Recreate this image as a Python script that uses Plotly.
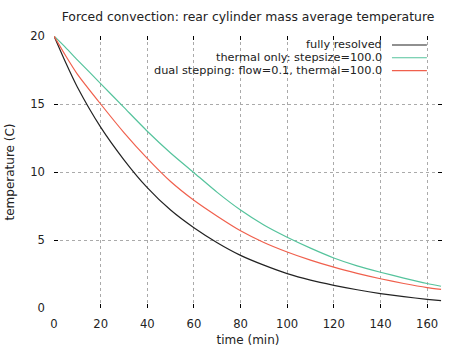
import plotly.graph_objects as go

title = "Forced convection: rear cylinder mass average temperature"
names = ["fully resolved", "thermal only: stepsize=100.0", "dual stepping: flow=0.1, thermal=100.0"]
colors = ["#222222", "#55c39c", "#f0604d"]

time_min = [0, 5, 10, 20, 30, 40, 50, 60, 70, 80, 90, 100, 110, 120, 130, 140, 150, 160, 166]
fully_resolved = [20.0, 18.05, 16.25, 13.3, 10.9, 8.85, 7.2, 5.9, 4.8, 3.87, 3.15, 2.53, 2.05, 1.67, 1.34, 1.06, 0.83, 0.64, 0.54]
thermal_only = [20.0, 19.15, 18.25, 16.5, 14.75, 13.0, 11.4, 9.95, 8.5, 7.2, 6.1, 5.2, 4.4, 3.68, 3.1, 2.63, 2.2, 1.8, 1.6]
dual_stepping = [20.0, 18.55, 17.2, 15.0, 12.9, 11.0, 9.3, 7.92, 6.75, 5.68, 4.82, 4.12, 3.52, 3.0, 2.55, 2.15, 1.8, 1.5, 1.37]

series = [fully_resolved, thermal_only, dual_stepping]

fig = go.Figure()
for name, ys, c in zip(names, series, colors):
    fig.add_trace(go.Scatter(x=time_min, y=ys, mode="lines", name=name,
                             line=dict(color=c, width=1.2, shape="spline", smoothing=0.6),
                             showlegend=False))

font = dict(family="DejaVu Sans", size=12, color="#222222")
legfont = dict(family="DejaVu Sans", size=11.3, color="#222222")
tickfont = dict(family="DejaVu Sans", size=11.6, color="#222222")

# legend drawn gnuplot-style: text right-aligned, sample line to the right
for i, (name, c) in enumerate(zip(names, colors)):
    yp = 0.967 - i * 0.047
    fig.add_annotation(x=0.848, y=yp, xref="paper", yref="paper", text=name,
                       showarrow=False, xanchor="right", yanchor="middle", font=legfont,
                       borderpad=0)
    fig.add_shape(type="line", xref="paper", yref="paper", x0=0.871, x1=0.961, y0=yp, y1=yp,
                  line=dict(color=c, width=1.2))

axis_common = dict(showgrid=True, gridcolor="#aaaaaa", griddash="dot", gridwidth=1,
                   zeroline=False, showline=False, ticks="inside", ticklen=4,
                   tickcolor="#000000", mirror="ticks", tickfont=tickfont)

fig.update_layout(
    width=460, height=348,
    margin=dict(l=54, r=18, t=36, b=40, autoexpand=False),
    plot_bgcolor="white", paper_bgcolor="white",
    title=dict(text=title, x=0.5, xref="paper", xanchor="center",
               y=0.951, yref="container", yanchor="middle",
               font=dict(family="DejaVu Sans", size=12.4, color="#222222")),
    xaxis=dict(range=[0, 166.4], dtick=20, ticklabelstandoff=7,
               title=dict(text="time (min)", font=font, standoff=6), **axis_common),
    yaxis=dict(range=[0, 20], dtick=5, ticklabelstandoff=8,
               title=dict(text="temperature (C)", font=font, standoff=13), **axis_common),
    font=font,
)

fig.write_html("out.html")
